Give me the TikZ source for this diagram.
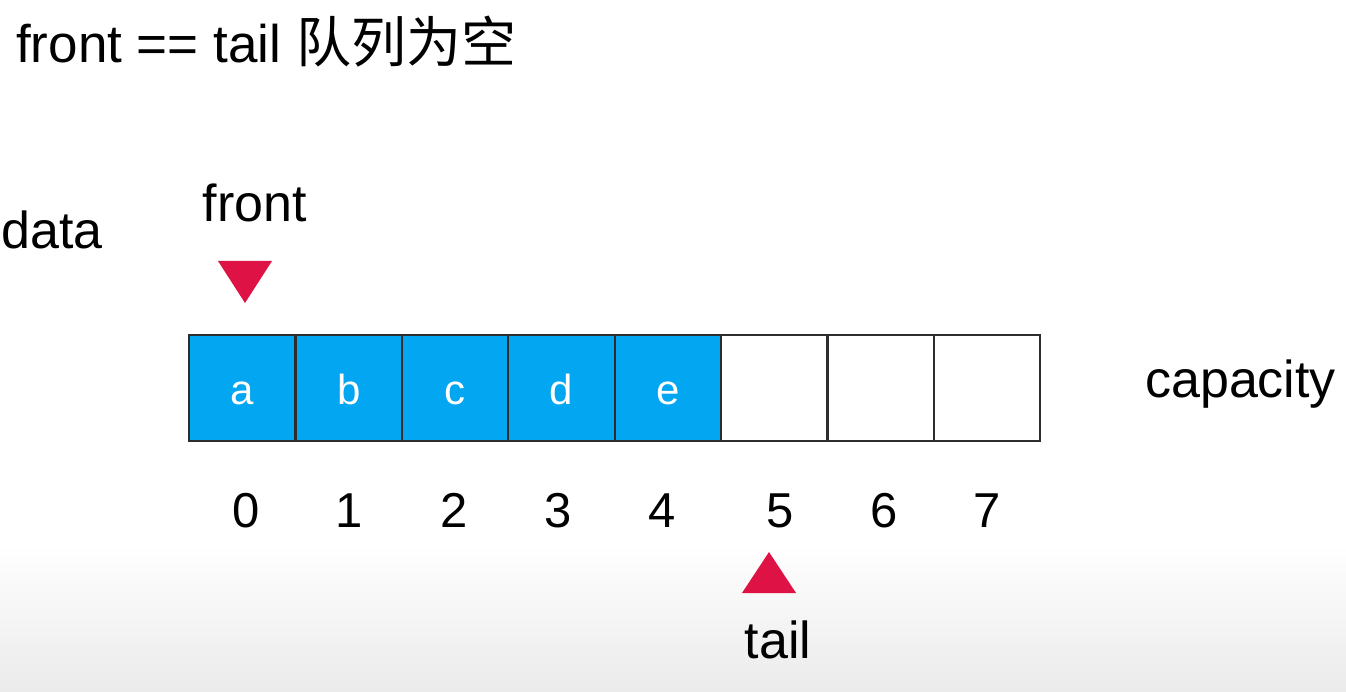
\documentclass[tikz,border=0pt]{standalone}
\usepackage{fontspec}
\setmainfont{Liberation Sans}
\newfontfamily\cjk{Noto Sans CJK SC}
\definecolor{cellblue}{RGB}{3,166,240}
\definecolor{ptrred}{RGB}{222,18,68}
\definecolor{cellline}{RGB}{45,45,45}
\begin{document}
\begin{tikzpicture}[x=1pt,y=-1pt,
  txt/.style={inner sep=0pt,anchor=base,text=black},
  cellbox/.style={draw=cellline,line width=2.2pt,minimum width=106.4pt,minimum height=106pt,inner sep=0pt,anchor=north west},
  full/.style={cellbox,fill=cellblue},
  empty/.style={cellbox,fill=white},
  celltxt/.style={inner sep=0pt,anchor=base,text=white,font=\fontsize{42}{42}\selectfont},
  idx/.style={txt,font=\fontsize{49}{49}\selectfont},
  lbl/.style={txt,font=\fontsize{52}{52}\selectfont},
  ptr/.style={fill=ptrred}]
\useasboundingbox (0,0) rectangle (1346,692);
\fill[white] (0,0) rectangle (1346,692);
\shade[top color=white,bottom color=black!8] (0,545) rectangle (1346,692);
% title
\node[txt,anchor=base west,font=\fontsize{53}{53}\selectfont] (title) at (16,63) {front == tail {\cjk\fontsize{55}{55}\selectfont 队列为空}};
% labels
\node[lbl,anchor=base west] (data) at (1,249) {data};
\node[lbl] (front) at (255,222) {front};
\node[lbl,anchor=base west] (cap) at (1145,397) {capacity};
\node[lbl] (tail) at (778,658) {tail};
% cells
\foreach \i in {0,...,4} {
  \node[full] (c\i) at ({188+106.4*\i},334) {};
}
\foreach \i in {5,...,7} {
  \node[empty] (c\i) at ({188+106.4*\i},334) {};
}
\foreach \i/\t in {0/a,1/b,2/c,3/d,4/e} {
  \node[celltxt] (t\i) at ([yshift=-16pt]c\i.center) {\t};
}
% indices
\foreach \i/\x in {0/246,1/349,2/454,3/558,4/662,5/780,6/884,7/987} {
  \node[idx] (i\i) at (\x,527) {\i};
}
% pointers
\coordinate (fp) at (245,303);
\coordinate (tp) at (769,552);
\fill[ptr] (fp) -- ++(-27,-42) -- ++(54,0) -- cycle;
\fill[ptr] (tp) -- ++(-27,41) -- ++(54,0) -- cycle;
\end{tikzpicture}
\end{document}
